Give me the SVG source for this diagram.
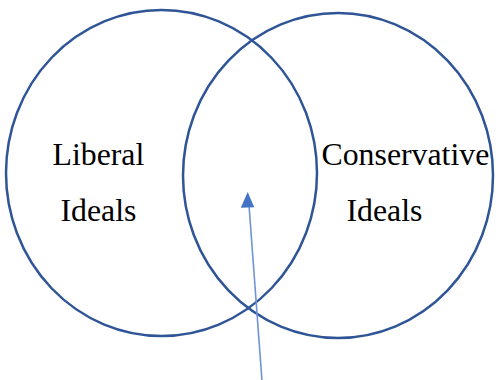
<svg xmlns="http://www.w3.org/2000/svg" width="496" height="380" viewBox="0 0 496 380">
<style>
.c{fill:none;stroke:#2f5597;stroke-width:2.5}
.t{font-family:"Liberation Serif","Times New Roman",serif;font-size:31.8px;fill:#000}
.a{stroke:#6f94d6;stroke-width:1.6;fill:none}
.h{fill:#4472c4}
</style>
<rect width="496" height="380" fill="#fff"/>
<g id="liberal">
<ellipse class="c" cx="161.5" cy="173" rx="155.5" ry="163"/>
<text class="t" x="52.5" y="165">Liberal</text>
<text class="t" x="60.5" y="221">Ideals</text>
</g>
<g id="conservative">
<ellipse class="c" cx="338" cy="175.5" rx="155" ry="162.5"/>
<text class="t" x="321.5" y="165">Conservative</text>
<text class="t" x="346.5" y="221">Ideals</text>
</g>
<g id="connectors">
<line class="a" x1="262" y1="381" x2="249" y2="205"/>
<polygon class="h" points="247.7,192 240.8,207.8 254.2,207.3"/>
</g>
</svg>
